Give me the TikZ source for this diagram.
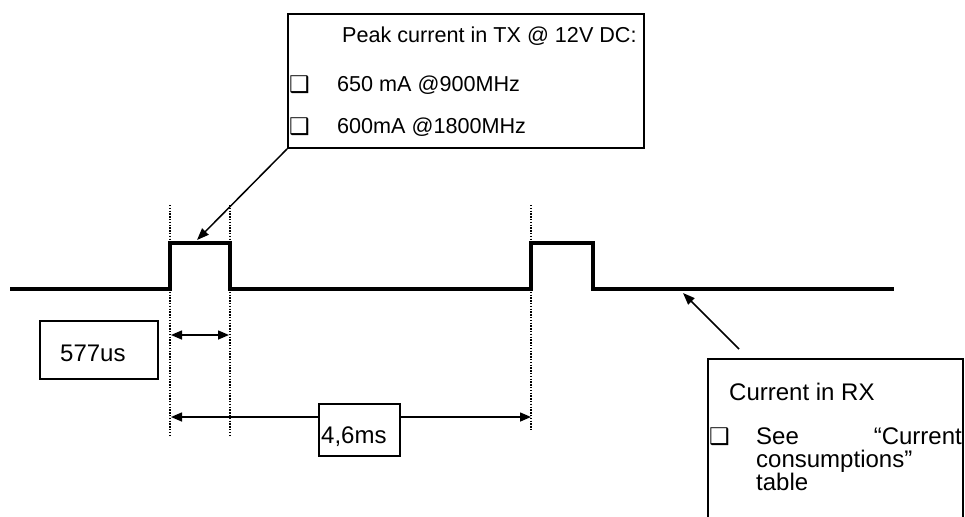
\documentclass[tikz,border=0pt]{standalone}
\usepackage{fontspec}
\setmainfont{Liberation Sans}
\newfontfamily\dingfont{DejaVu Sans}
\usetikzlibrary{calc, arrows.meta}

\begin{document}
\begin{tikzpicture}[x = 1pt, y = -1pt,
		wave/.style = {line width = 3.6pt, line join = miter},
		marker/.style = {line width = 1.4pt, dash pattern = on 1.4pt off 1.4pt},
		box/.style = {draw, line width = 1.8pt, fill = white, inner sep = 0pt},
		pointer/.style = {line width = 1.5pt, -{Triangle[length = 12pt, width = 9pt]}},
		span/.style = {line width = 1.5pt, {Triangle[length = 11pt, width = 9pt]}-{Triangle[length = 11pt, width = 9pt]}},
		small text/.style = {anchor = base west, inner sep = 0pt, font = \fontsize{21.6}{26}\selectfont},
		big text/.style = {anchor = base west, inner sep = 0pt, font = \fontsize{24}{28}\selectfont},
		tick/.style = {anchor = base west, inner sep = 0pt, font = \dingfont\bfseries\fontsize{23}{26}\selectfont}
	]
		%frame
		\useasboundingbox (0,0) rectangle (965,516);
		\clip (0,0) rectangle (965,516);
		
		%variables
		\def\low{289};
		\def\high{243};
		
		%coordinates
		\coordinate (tx peak) at (197,240);
		\coordinate (rx level) at (683,293);
		\coordinate (slot left) at (171,335);
		\coordinate (slot right) at (229,335);
		\coordinate (frame left) at (171,417);
		\coordinate (frame right) at (531,417);
		
		%signal
		\draw [wave] (10,\low) -- (170,\low) -- (170,\high) -- (230,\high) -- (230,\low)
			-- (531,\low) -- (531,\high) -- (593,\high) -- (593,\low) -- (894,\low);
		
		%time marks
		\foreach \x/\y in {170/437, 230/437, 531/431}
			\draw [marker] (\x,205) -- (\x,\y);
		
		\draw [span] (slot left) -- (slot right);
		\draw [span] (frame left) -- (frame right);
		
		%durations
		\node [box, minimum width = 118pt, minimum height = 58pt] (slot box) at (99,350) {};
		\node [big text] (slot text) at (60,361) {577us};
		
		\node [box, minimum width = 81pt, minimum height = 52pt] (frame box) at (359.5,430) {};
		\node [big text] (frame text) at (321,443) {4,6ms};
		
		%TX callout
		\node [box, minimum width = 356pt, minimum height = 134pt] (tx box) at (466,81) {};
		\node [small text] (tx title) at (342,43) {Peak current in TX @ 12V DC:};
		\node [tick] (tx tick a) at (289,93) {❑};
		\node [small text] (tx line a) at (337,92) {650 mA @900MHz};
		\node [tick] (tx tick b) at (289,134) {❑};
		\node [small text] (tx line b) at (337,133) {600mA @1800MHz};
		
		\draw [pointer] (tx box.south west) -- (tx peak);
		
		%RX callout
		\node [box, minimum width = 255pt, minimum height = 181pt] (rx box) at (835.5,449.5) {};
		\node [big text] (rx title) at (729,400) {Current in RX};
		\node [tick] (rx tick) at (709,444) {❑};
		\node [big text] (rx see) at (756,444) {See};
		\node [big text, anchor = base east] (rx quote) at (962,444) {“Current};
		\node [big text] (rx line b) at (756,467) {consumptions”};
		\node [big text] (rx line c) at (756,490) {table};
		
		\draw [pointer] ($ (rx box.north west) + (32,-9) $) -- (rx level);
	\end{tikzpicture}
\end{document}
